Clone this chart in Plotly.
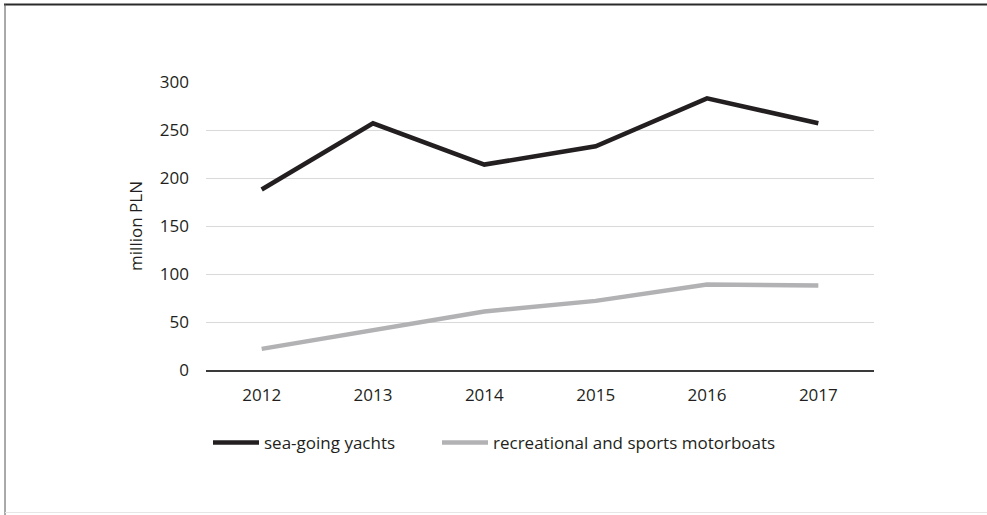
import plotly.graph_objects as go

years = ["2012", "2013", "2014", "2015", "2016", "2017"]
sea_going_yachts = [188, 257, 214, 233, 283, 257]
motorboats = [22, 41, 61, 72, 89, 88]
y_ticks = [0, 50, 100, 150, 200, 250, 300]

W, H = 987, 515
L, R, T, B = 206, 113, 82, 145
pw, ph = W - L - R, H - T - B

def px(x):
    return (x - L) / pw

def py(y):
    return (H - B - y) / ph

FONT = "Open Sans"
FS = 17
fig = go.Figure()
fig.add_trace(go.Scatter(x=years, y=sea_going_yachts, mode="lines", name="sea-going yachts",
                         line=dict(color="#231f20", width=4.5), legend="legend"))
fig.add_trace(go.Scatter(x=years, y=motorboats, mode="lines", name="recreational and sports motorboats",
                         line=dict(color="#b2b2b5", width=4.5), legend="legend2"))

shapes = [
    dict(type="line", xref="paper", yref="paper", x0=px(4), x1=px(W), y0=py(4.5), y1=py(4.5),
         line=dict(color="#2a2a2a", width=2)),
    dict(type="line", xref="paper", yref="paper", x0=px(5), x1=px(5), y0=py(4), y1=py(H),
         line=dict(color="#555555", width=1)),
    dict(type="line", xref="paper", yref="paper", x0=px(5), x1=px(W), y0=py(512.5), y1=py(512.5),
         line=dict(color="#e6e6e6", width=1)),
]

legend_common = dict(orientation="h", xanchor="left", y=py(443), yanchor="middle",
                     font=dict(size=FS, color="#231f20"), itemwidth=46, bgcolor="rgba(0,0,0,0)")

fig.update_layout(
    width=W, height=H,
    margin=dict(l=L, r=R, t=T, b=B),
    paper_bgcolor="white", plot_bgcolor="white",
    font=dict(family=FONT, size=FS, color="#231f20"),
    showlegend=True,
    legend=dict(x=px(208), **legend_common),
    legend2=dict(x=px(437), **legend_common),
    shapes=shapes,
    xaxis=dict(type="category", range=[-0.5, 5.5], showgrid=False, showline=True,
               linecolor="#3a3a3a", linewidth=1.5,
               ticks="", ticklabelstandoff=9, tickfont=dict(size=FS), fixedrange=True),
    yaxis=dict(range=[0, 300], tickvals=y_ticks, showgrid=True, gridcolor="#d9d9d9", gridwidth=1,
               zeroline=False, showline=False, ticks="", ticklabelstandoff=16,
               tickfont=dict(size=FS), fixedrange=True,
               title=dict(text="million PLN", standoff=12, font=dict(size=FS))),
)

fig.write_html("out.html", config={"displayModeBar": False},
               post_script="document.body.style.margin='0';document.body.style.overflow='hidden';")
